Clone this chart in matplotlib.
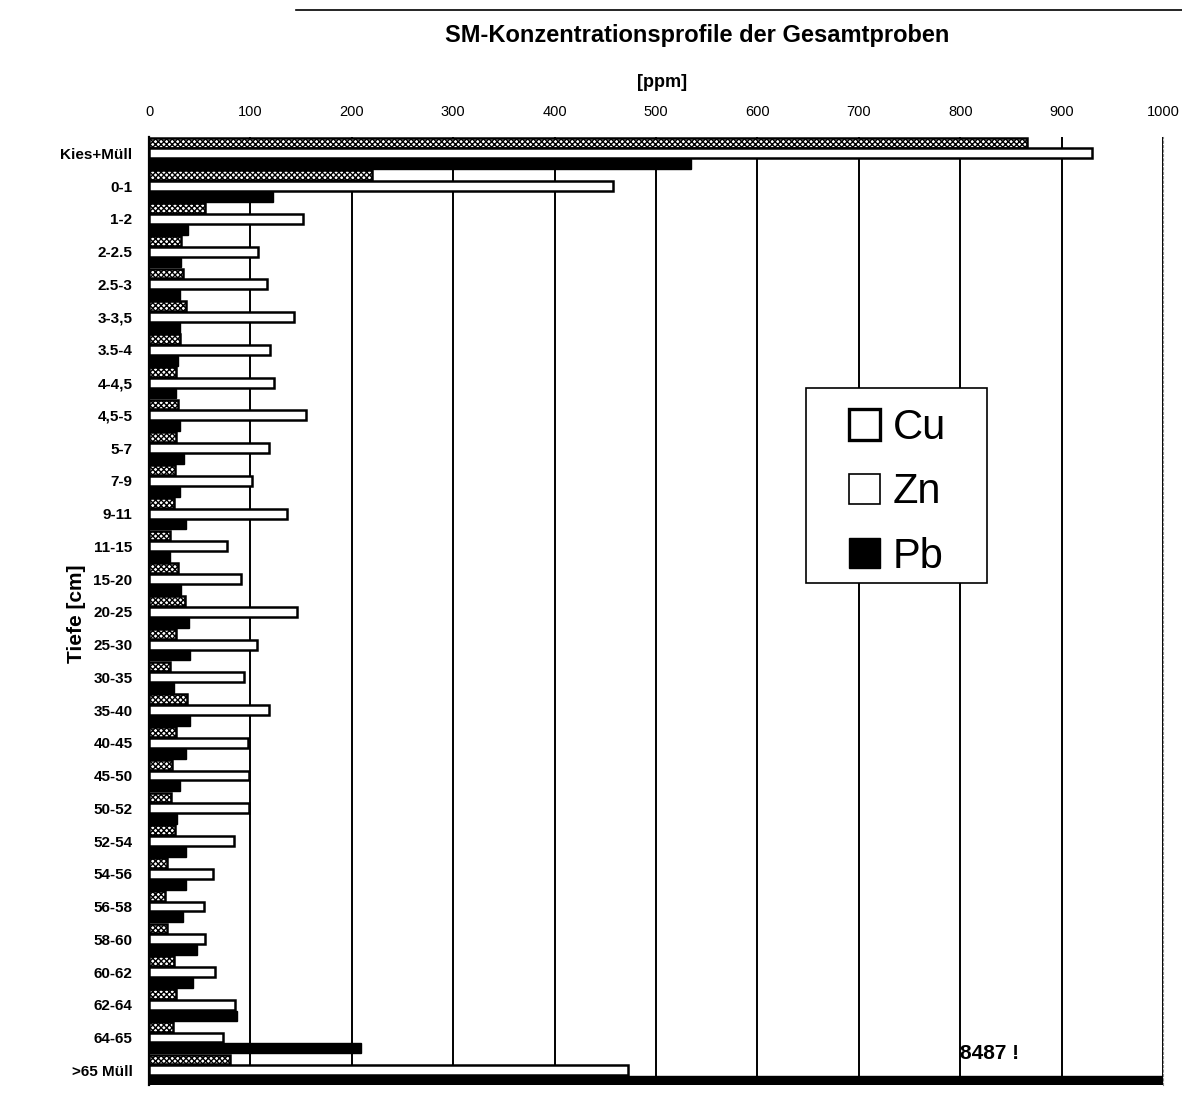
import matplotlib.pyplot as plt
import numpy as np
from matplotlib.patches import Patch, Rectangle

plt.rcParams['font.family'] = ['Liberation Sans', 'DejaVu Sans']

# Tiefenstufen und Schwermetallgehalte [ppm]
tiefen = ['Kies+Müll', '0-1', '1-2', '2-2.5', '2.5-3', '3-3,5', '3.5-4', '4-4,5',
          '4,5-5', '5-7', '7-9', '9-11', '11-15', '15-20', '20-25', '25-30',
          '30-35', '35-40', '40-45', '45-50', '50-52', '52-54', '54-56',
          '56-58', '58-60', '60-62', '62-64', '64-65', '>65 Müll']
cu = [866, 220, 55, 32, 33, 36, 31, 27, 29, 27, 26, 25, 21, 29, 35, 27,
      21, 37, 27, 23, 22, 26, 18, 16, 18, 25, 27, 24, 80]
zn = [930, 458, 152, 107, 116, 143, 119, 123, 155, 118, 102, 136, 77, 91,
      146, 106, 94, 118, 98, 99, 99, 84, 63, 54, 55, 65, 85, 73, 472]
pb = [534, 122, 38, 32, 31, 31, 29, 27, 31, 34, 31, 36, 21, 32, 39, 40,
      25, 40, 36, 31, 28, 36, 36, 33, 47, 43, 87, 209, 8487]
x_ticks = [0, 100, 200, 300, 400, 500, 600, 700, 800, 900, 1000]

fig = plt.figure(figsize=(11.82, 11.14), dpi=100)
ax = fig.add_axes([0.1261, 0.026, 0.8579, 0.851])

y = np.arange(len(tiefen))
h = 0.30
ax.barh(y - 0.33, cu, height=h, color='white', edgecolor='black',
        linewidth=1.8, hatch='xxxxxx', label='Cu', zorder=3)
ax.barh(y, zn, height=h, color='white', edgecolor='black',
        linewidth=1.8, label='Zn', zorder=3)
ax.barh(y + 0.33, pb, height=h, color='black', edgecolor='black',
        linewidth=1.0, label='Pb', zorder=3)

ax.set_xlim(0, 1000)
ax.set_ylim(28.45, -0.5)
ax.set_xticks(x_ticks)
ax.xaxis.tick_top()
ax.tick_params(axis='x', length=0, pad=13, labelsize=10.5)
ax.set_yticks(y)
ax.set_yticklabels(tiefen, fontsize=11, fontweight='bold')
ax.tick_params(axis='y', length=0, pad=12)

ax.grid(axis='x', color='black', linewidth=1.4)
ax.set_axisbelow(True)
for s in ['top', 'bottom']:
    ax.spines[s].set_visible(False)
ax.spines['right'].set_linestyle((0, (2, 2)))
ax.spines['right'].set_color('#888888')
ax.spines['right'].set_linewidth(0.8)
ax.spines['left'].set_linewidth(1.6)

ax.set_ylabel('Tiefe [cm]', fontsize=15, fontweight='bold')
ax.yaxis.set_label_coords(-0.062, 0.497)
fig.text(0.59, 0.968, 'SM-Konzentrationsprofile der Gesamtproben',
         ha='center', va='center', fontsize=17, fontweight='bold')
fig.text(0.56, 0.926, '[ppm]', ha='center', va='center', fontsize=13,
         fontweight='bold')
ax.text(800, 27.5, '8487 !', fontsize=15, fontweight='bold',
        ha='left', va='center', zorder=4)

# Kopflinie der Seite
fig.add_artist(plt.Line2D([0.25, 1.0], [0.991, 0.991], color='black',
                          linewidth=1.2))

# Legendenrahmen
fig.add_artist(Rectangle((0.682, 0.4767), 0.153, 0.175, transform=fig.transFigure,
                         facecolor='white', edgecolor='black', linewidth=1.2,
                         zorder=4))
handles = [Patch(facecolor='white', edgecolor='black', linewidth=2.4),
           Patch(facecolor='white', edgecolor='black', linewidth=1.2),
           Patch(facecolor='black', edgecolor='black')]
leg = fig.legend(handles, ['Cu', 'Zn', 'Pb'], loc='upper left',
                 bbox_to_anchor=(0.711, 0.641), fontsize=30, frameon=False,
                 handlelength=0.75, handleheight=0.75, handletextpad=0.3,
                 labelspacing=0.58, borderpad=0.2, borderaxespad=0)
leg.set_zorder(5)

plt.savefig('out.png', dpi=100)
